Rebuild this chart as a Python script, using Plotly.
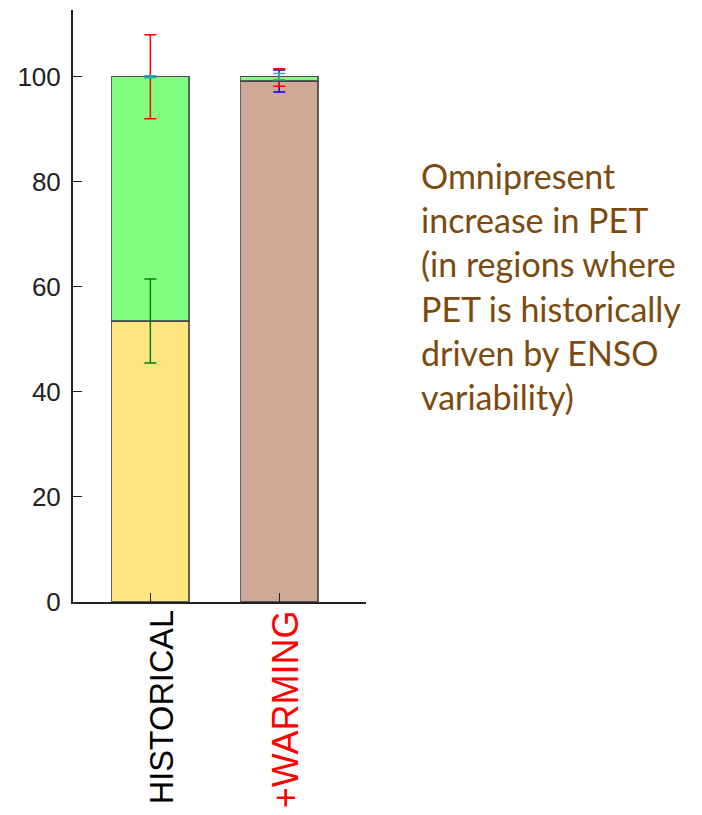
import plotly.graph_objects as go

categories = ["HISTORICAL", "+WARMING"]
label_colors = ["#000000", "#ff0000"]
label_sizes = [32.5, 36]
label_shifts = [12, 6]

# stacked segments (percent)
yellow_vals = [53.5, 0.0]
brown_vals = [0.0, 99.2]
green_vals = [46.5, 0.8]
zero_vals = [0.0, 0.0]

# error bars (plus / minus) at top of each segment
yellow_err_plus = [8.0, None]
yellow_err_minus = [8.0, None]
brown_err_plus = [None, 2.1]
brown_err_minus = [None, 2.1]
green_err_plus = [8.0, 1.5]
green_err_minus = [8.0, 1.8]
zero_err_plus = [0.2, 0.6]
zero_err_minus = [0.2, 0.6]

note_lines = ["Omnipresent", "increase in PET", "(in regions where",
              "PET is historically", "driven by ENSO", "variability)"]

edge = dict(color="rgba(70,70,70,0.85)", width=1.5)

fig = go.Figure()
for vals, color in [(yellow_vals, "#ffe57f"), (brown_vals, "#cfa896"),
                    (green_vals, "#80ff80"), (zero_vals, "rgba(0,0,0,0)")]:
    fig.add_trace(go.Bar(x=categories, y=vals, width=0.6,
                         marker=dict(color=color, line=edge),
                         showlegend=False, hoverinfo="skip"))

# error bars at cumulative tops
tops_yellow = yellow_vals
tops_brown = [a + b for a, b in zip(yellow_vals, brown_vals)]
tops_green = [a + b for a, b in zip(tops_brown, green_vals)]
tops_zero = [a + b for a, b in zip(tops_green, zero_vals)]

for tops, ecolor, ep, em in [
    (tops_yellow, "#008000", yellow_err_plus, yellow_err_minus),
    (tops_brown, "#0000ff", brown_err_plus, brown_err_minus),
    (tops_green, "#ff0000", green_err_plus, green_err_minus),
    (tops_zero, "#00bfbf", zero_err_plus, zero_err_minus),
]:
    xs = [c for c, p in zip(categories, ep) if p is not None]
    ys = [t for t, p in zip(tops, ep) if p is not None]
    pp = [p for p in ep if p is not None]
    mm = [m for m in em if m is not None]
    fig.add_trace(go.Scatter(
        x=xs, y=ys, mode="markers", marker=dict(size=0.1, opacity=0),
        error_y=dict(type="data", symmetric=False, array=pp, arrayminus=mm,
                     color=ecolor, thickness=1.5, width=6),
        showlegend=False, hoverinfo="skip"))

fig.update_layout(
    barmode="stack",
    width=702, height=815,
    margin=dict(l=73, r=336, t=10, b=213),
    paper_bgcolor="white", plot_bgcolor="white",
    font=dict(family="Liberation Sans, Arial, sans-serif", color="#222222"),
)
fig.update_xaxes(
    type="category", range=[-0.6, 1.673],
    tickvals=categories, showticklabels=False,
    ticks="inside", ticklen=9, tickwidth=1, tickcolor="#222222",
    showline=True, linecolor="#222222", linewidth=2, showgrid=False,
    zeroline=False,
)
fig.update_yaxes(
    range=[0, 112.7], tickvals=[0, 20, 40, 60, 80, 100],
    ticks="inside", ticklen=9, tickwidth=1, tickcolor="#222222",
    tickfont=dict(size=26, color="#222222",
                  family="Liberation Sans, Arial, sans-serif"),
    ticklabelstandoff=5,
    showline=True, linecolor="#222222", linewidth=2, showgrid=False,
    zeroline=False,
)

for cat, col, sz, sh in zip(categories, label_colors, label_sizes, label_shifts):
    fig.add_annotation(
        text=cat, x=cat, xref="x", y=0, yref="paper",
        xanchor="center", yanchor="top", yshift=-6, xshift=sh,
        textangle=-90, showarrow=False,
        font=dict(size=sz, color=col, family="Liberation Sans, Arial, sans-serif"),
    )

fig.add_annotation(
    text="<br>".join(note_lines), xref="paper", yref="paper",
    x=1.18, y=0.758, xanchor="left", yanchor="top", align="left",
    showarrow=False,
    font=dict(family="Lato, sans-serif", size=34, color="#7b4a0f"),
)

fig.write_html("out.html")
